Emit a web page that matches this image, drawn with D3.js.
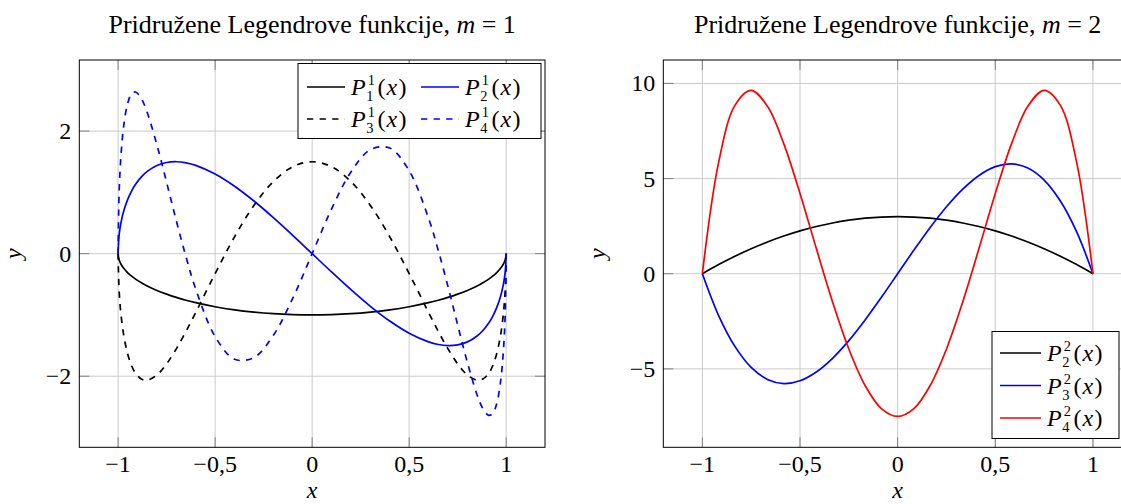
<!DOCTYPE html>
<html>
<head>
<meta charset="utf-8">
<script src="https://cdn.jsdelivr.net/npm/d3@7"></script>
<style>
  body { margin: 0; background: #fff; }
  svg { display: block; }
</style>
</head>
<body>
<svg id="chart" width="1121" height="504" font-family="Liberation Serif, DejaVu Serif, serif"></svg>
<script>
// ---- m = 1 : sample points (denser towards the endpoints) ----
const xM1 = [-1, -0.995, -0.985, -0.97, -0.95, -0.93, -0.91, -0.88, -0.85, -0.8, -0.75, -0.7, -0.65, -0.6,
  -0.5, -0.4, -0.3, -0.2, -0.1, 0, 0.1, 0.2, 0.3, 0.4, 0.5, 0.6, 0.65, 0.7, 0.75, 0.8, 0.85, 0.88,
  0.91, 0.93, 0.95, 0.97, 0.985, 0.995, 1];
const P11 = [0, -0.100, -0.173, -0.243, -0.312, -0.368, -0.415, -0.475, -0.527, -0.6, -0.661, -0.714, -0.760, -0.8,
  -0.866, -0.917, -0.954, -0.980, -0.995, -1, -0.995, -0.980, -0.954, -0.917, -0.866, -0.8, -0.760, -0.714,
  -0.661, -0.6, -0.527, -0.475, -0.415, -0.368, -0.312, -0.243, -0.173, -0.100, 0];
const P21 = [0, 0.298, 0.510, 0.707, 0.890, 1.026, 1.132, 1.254, 1.343, 1.44, 1.488, 1.500, 1.482, 1.44,
  1.299, 1.100, 0.859, 0.588, 0.299, 0, -0.299, -0.588, -0.859, -1.100, -1.299, -1.44, -1.482, -1.500,
  -1.488, -1.44, -1.343, -1.254, -1.132, -1.026, -0.890, -0.707, -0.510, -0.298, 0];
const P31 = [0, -0.592, -0.997, -1.351, -1.645, -1.833, -1.953, -2.046, -2.064, -1.98, -1.798, -1.553, -1.268, -0.96,
  -0.325, 0.275, 0.787, 1.176, 1.418, 1.5, 1.418, 1.176, 0.787, 0.275, -0.325, -0.96, -1.268, -1.553,
  -1.798, -1.98, -2.064, -2.046, -1.953, -1.833, -1.645, -1.351, -0.997, -0.592, 0];
const P41 = [0, 0.976, 1.611, 2.114, 2.460, 2.610, 2.638, 2.530, 2.303, 1.776, 1.163, 0.537, -0.053, -0.576,
  -1.353, -1.723, -1.696, -1.333, -0.729, 0, 0.729, 1.333, 1.696, 1.723, 1.353, 0.576, 0.053, -0.537,
  -1.163, -1.776, -2.303, -2.530, -2.638, -2.610, -2.460, -2.114, -1.611, -0.976, 0];

// ---- m = 2 : uniform sample points ----
const xM2 = [-1, -0.9167, -0.8333, -0.75, -0.6667, -0.5833, -0.5, -0.4167, -0.3333, -0.25, -0.1667, -0.0833, 0,
  0.0833, 0.1667, 0.25, 0.3333, 0.4167, 0.5, 0.5833, 0.6667, 0.75, 0.8333, 0.9167, 1];
const P22 = [0, 0.479, 0.917, 1.313, 1.667, 1.979, 2.25, 2.479, 2.667, 2.813, 2.917, 2.979, 3,
  2.979, 2.917, 2.813, 2.667, 2.479, 2.25, 1.979, 1.667, 1.313, 0.917, 0.479, 0];
const P32 = [0, -2.196, -3.819, -4.922, -5.556, -5.773, -5.625, -5.165, -4.444, -3.516, -2.431, -1.241, 0,
  1.241, 2.431, 3.516, 4.444, 5.165, 5.625, 5.773, 5.556, 4.922, 3.819, 2.196, 0];
const P42 = [0, 5.848, 8.848, 9.639, 8.796, 6.838, 4.219, 1.334, -1.481, -3.955, -5.874, -7.086, -7.5,
  -7.086, -5.874, -3.955, -1.481, 1.334, 4.219, 6.838, 8.796, 9.639, 8.848, 5.848, 0];

// ---- ticks ----
const xTicks = [-1, -0.5, 0, 0.5, 1];
const xTickLabels = ["\u22121", "\u22120,5", "0", "0,5", "1"];
const yTicksM1 = [-2, 0, 2];
const yTickLabelsM1 = ["\u22122", "0", "2"];
const yTicksM2 = [-5, 0, 5, 10];
const yTickLabelsM2 = ["\u22125", "0", "5", "10"];

const svg = d3.select("#chart");
const FS = 24;        // tick labels, axis labels, legend
const FS_TITLE = 26;  // panel titles

// P^m_n(x) as a single text element with stacked super/subscript
function mathP(g, x, y, sup, sub, size) {
  const ss = size * 0.6;
  const t = g.append("text").attr("x", x).attr("y", y).attr("font-size", size);
  t.append("tspan").attr("font-style", "italic").text("P");
  const pw = t.node().getComputedTextLength();
  const s1 = t.append("tspan").attr("font-size", ss)
    .attr("dx", 2).attr("dy", -size * 0.4).text(sup);
  const s2 = t.append("tspan").attr("font-size", ss)
    .attr("x", x + pw + 0.5).attr("dy", size * 0.67).text(sub);
  const sw = Math.max(s1.node().getComputedTextLength() + 2, s2.node().getComputedTextLength() + 0.5);
  t.append("tspan").attr("x", x + pw + sw + 2.5).attr("dy", -size * 0.27).text("(");
  t.append("tspan").attr("dx", 1).attr("font-style", "italic").text("x");
  t.append("tspan").attr("dx", 1.5).text(")");
}

function panel(cfg) {
  const g = svg.append("g");
  const x = d3.scaleLinear().domain([-1.2, 1.2]).range([cfg.left, cfg.right]);
  const y = d3.scaleLinear().domain(cfg.yDomain).range([cfg.bottom, cfg.top]);
  const w = cfg.right - cfg.left, h = cfg.bottom - cfg.top;

  // grid
  const grid = g.append("g").attr("stroke", "#c4c4c4").attr("stroke-width", 0.9);
  grid.selectAll("line.gx").data(xTicks).join("line")
    .attr("x1", d => x(d)).attr("x2", d => x(d)).attr("y1", cfg.top).attr("y2", cfg.bottom);
  grid.selectAll("line.gy").data(cfg.yTicks).join("line")
    .attr("x1", cfg.left).attr("x2", cfg.right).attr("y1", d => y(d)).attr("y2", d => y(d));

  // inward tick marks on all four sides
  const TL = 10;
  const tk = g.append("g").attr("stroke", "#808080").attr("stroke-width", 1);
  xTicks.forEach(d => {
    tk.append("line").attr("x1", x(d)).attr("x2", x(d)).attr("y1", cfg.bottom).attr("y2", cfg.bottom - TL);
    tk.append("line").attr("x1", x(d)).attr("x2", x(d)).attr("y1", cfg.top).attr("y2", cfg.top + TL);
  });
  cfg.yTicks.forEach(d => {
    tk.append("line").attr("x1", cfg.left).attr("x2", cfg.left + TL).attr("y1", y(d)).attr("y2", y(d));
    tk.append("line").attr("x1", cfg.right).attr("x2", cfg.right - TL).attr("y1", y(d)).attr("y2", y(d));
  });

  // curves
  const line = d3.line().x(d => x(d[0])).y(d => y(d[1])).curve(d3.curveCatmullRom.alpha(0.5));
  cfg.series.forEach(s => {
    g.append("path").datum(d3.zip(cfg.xs, s.values))
      .attr("d", line).attr("fill", "none")
      .attr("stroke", s.color).attr("stroke-width", 1.7)
      .attr("stroke-dasharray", s.dash ? "6.3,6.3" : null)
      .attr("stroke-linejoin", "round");
  });

  // frame
  g.append("rect").attr("x", cfg.left).attr("y", cfg.top).attr("width", w).attr("height", h)
    .attr("fill", "none").attr("stroke", "#000").attr("stroke-width", 1);

  // tick labels
  g.selectAll("text.xt").data(xTicks).join("text")
    .attr("x", d => x(d)).attr("y", cfg.bottom + 24.5).attr("text-anchor", "middle")
    .attr("font-size", FS).text((d, i) => xTickLabels[i]);
  g.selectAll("text.yt").data(cfg.yTicks).join("text")
    .attr("x", cfg.left - 8).attr("y", d => y(d) + 8).attr("text-anchor", "end")
    .attr("font-size", FS).text((d, i) => cfg.yTickLabels[i]);

  // axis labels
  g.append("text").attr("x", (cfg.left + cfg.right) / 2).attr("y", cfg.bottom + 51)
    .attr("text-anchor", "middle").attr("font-size", FS).attr("font-style", "italic").text("x");
  g.append("text").attr("transform", `translate(${cfg.left - 58},${(cfg.top + cfg.bottom) / 2}) rotate(-90)`)
    .attr("text-anchor", "middle").attr("font-size", FS).attr("font-style", "italic").text("y");

  // title
  const t = g.append("text").attr("x", (cfg.left + cfg.right) / 2).attr("y", 33)
    .attr("text-anchor", "middle").attr("font-size", FS_TITLE);
  t.append("tspan").text("Pridru\u017eene Legendrove funkcije, ");
  t.append("tspan").attr("font-style", "italic").text("m");
  t.append("tspan").text(" = " + cfg.m);

  // legend
  const L = cfg.legend;
  const lg = g.append("g");
  lg.append("rect").attr("x", L.x).attr("y", L.y).attr("width", L.w).attr("height", L.h)
    .attr("fill", "#fff").attr("stroke", "#000").attr("stroke-width", 1);
  L.items.forEach(it => {
    const s = cfg.series[it.s];
    lg.append("line").attr("x1", it.x).attr("x2", it.x + L.lineLen).attr("y1", it.y).attr("y2", it.y)
      .attr("stroke", s.color).attr("stroke-width", 1.7)
      .attr("stroke-dasharray", s.dash ? "6.3,6.3" : null);
    mathP(lg, it.x + L.lineLen + 6, it.y + 8, String(cfg.m), String(s.n), FS);
  });
}

panel({
  left: 79.3, right: 545, top: 60, bottom: 447.3, yDomain: [-3.16, 3.16],
  yTicks: yTicksM1, yTickLabels: yTickLabelsM1, m: 1, xs: xM1,
  series: [
    { n: 1, values: P11, color: "#000", dash: false },
    { n: 2, values: P21, color: "#0000ff", dash: false },
    { n: 3, values: P31, color: "#000", dash: true },
    { n: 4, values: P41, color: "#0000ff", dash: true }
  ],
  legend: { x: 298, y: 63.5, w: 243, h: 75, lineLen: 38,
    items: [{ s: 0, x: 307, y: 87 }, { s: 1, x: 421, y: 87 }, { s: 2, x: 307, y: 119 }, { s: 3, x: 421, y: 119 }] }
});

panel({
  left: 663.3, right: 1132, top: 60, bottom: 447.3, yDomain: [-9.12, 11.23],
  yTicks: yTicksM2, yTickLabels: yTickLabelsM2, m: 2, xs: xM2,
  series: [
    { n: 2, values: P22, color: "#000", dash: false },
    { n: 3, values: P32, color: "#0000ff", dash: false },
    { n: 4, values: P42, color: "#ff0000", dash: false }
  ],
  legend: { x: 992, y: 331.5, w: 127, h: 107, lineLen: 41,
    items: [{ s: 0, x: 1000, y: 353 }, { s: 1, x: 1000, y: 385.5 }, { s: 2, x: 1000, y: 418 }] }
});
</script>
</body>
</html>
